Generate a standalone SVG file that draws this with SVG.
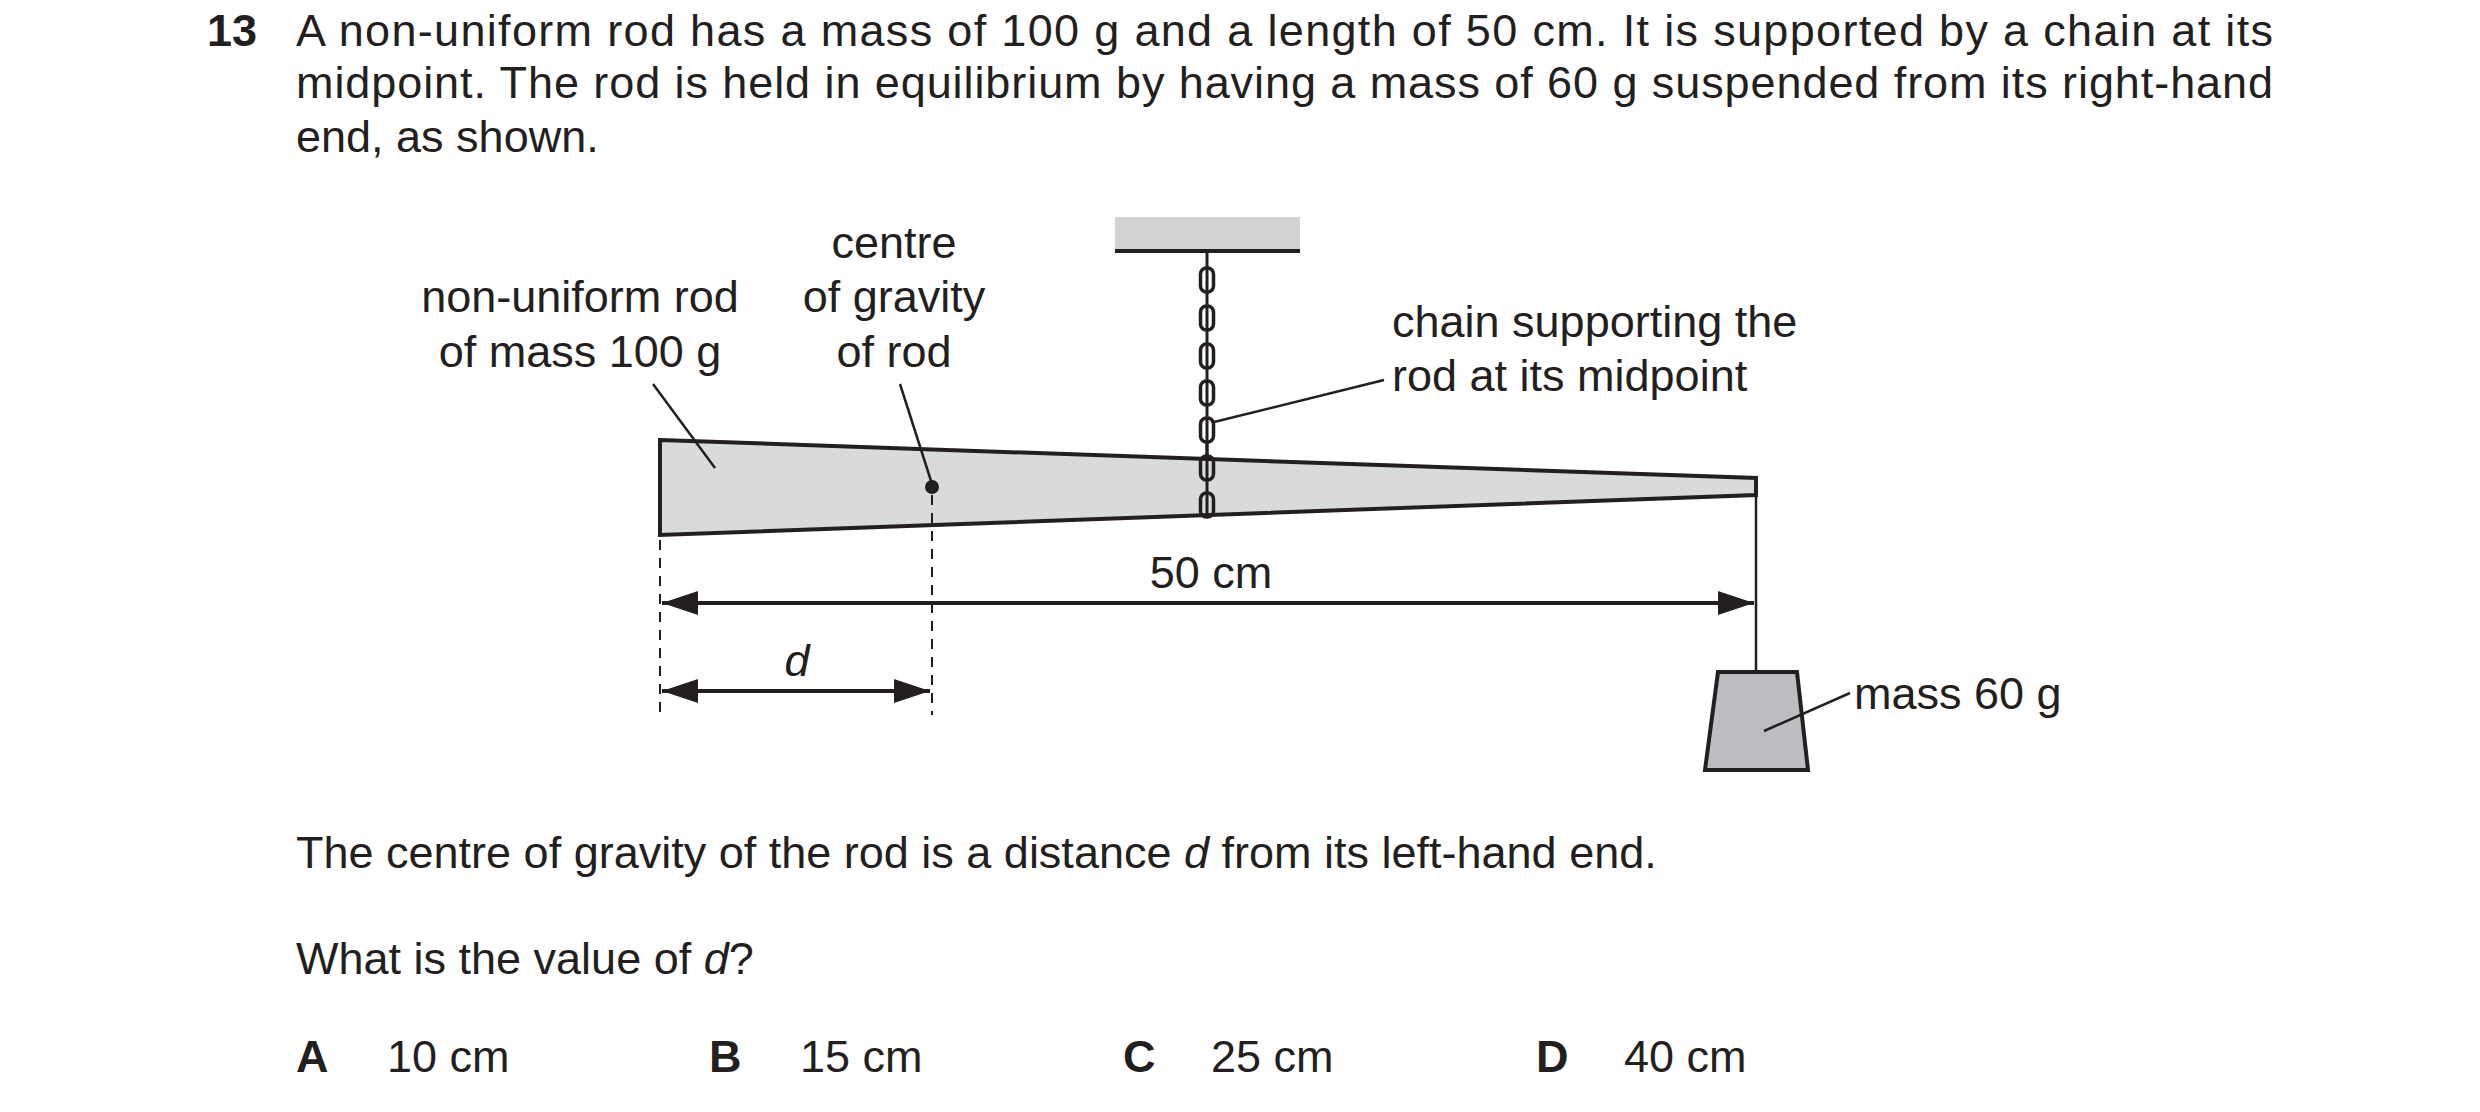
<svg xmlns="http://www.w3.org/2000/svg" width="2480" height="1112" viewBox="0 0 2480 1112">
<style>
text{font-family:"Liberation Sans",Arial,sans-serif;font-size:45px;fill:#231f20}
.b{font-weight:bold}
.ln{stroke:#231f20;stroke-width:2.5;fill:none}
.th{stroke:#231f20;stroke-width:4;fill:none}
.dash{stroke:#231f20;stroke-width:2;stroke-dasharray:10 8;fill:none}
.link{fill:none;stroke:#231f20;stroke-width:3.5}
</style>
<defs>
<marker id="ah2" viewBox="0 0 36 24" refX="36" refY="12" markerWidth="36" markerHeight="24" markerUnits="userSpaceOnUse" orient="auto-start-reverse"><path d="M0,0 L36,12 L0,24 z" fill="#231f20"/></marker>
</defs>
<rect width="2480" height="1112" fill="#fff"/>
<g id="question">
<text class="b" x="207" y="46">13</text>
<text x="296" y="46" textLength="1977" lengthAdjust="spacing">A non-uniform rod has a mass of 100 g and a length of 50 cm. It is supported by a chain at its</text>
<text x="296" y="98" textLength="1977" lengthAdjust="spacing">midpoint. The rod is held in equilibrium by having a mass of 60 g suspended from its right-hand</text>
<text x="296" y="152">end, as shown.</text>
<text x="296" y="868">The centre of gravity of the rod is a distance <tspan font-style="italic">d</tspan> from its left-hand end.</text>
<text x="296" y="974">What is the value of <tspan font-style="italic">d</tspan>?</text>
<text class="b" x="296" y="1072">A</text><text x="387" y="1072">10 cm</text>
<text class="b" x="709" y="1072">B</text><text x="800" y="1072">15 cm</text>
<text class="b" x="1123" y="1072">C</text><text x="1211" y="1072">25 cm</text>
<text class="b" x="1536" y="1072">D</text><text x="1624" y="1072">40 cm</text>
</g>
<g id="ceiling">
<rect x="1115" y="217" width="185" height="35" fill="#d1d2d4"/>
<line x1="1115" y1="251" x2="1300" y2="251" class="th"/>
</g>
<g id="chain">
<line x1="1207" y1="252" x2="1207" y2="516" stroke="#231f20" stroke-width="3"/>
<rect x="1200.5" y="268" width="13" height="24" rx="6" class="link"/>
<rect x="1200.5" y="306" width="13" height="24" rx="6" class="link"/>
<rect x="1200.5" y="344" width="13" height="24" rx="6" class="link"/>
<rect x="1200.5" y="381" width="13" height="24" rx="6" class="link"/>
<rect x="1200.5" y="418" width="13" height="24" rx="6" class="link"/>
</g>
<g id="rod">
<polygon points="660,440 1756,478 1756,495 660,535" fill="#d9dadc" stroke="#231f20" stroke-width="4"/>
<rect x="1200.5" y="456" width="13" height="24" rx="6" class="link"/>
<rect x="1200.5" y="493" width="13" height="24" rx="6" class="link"/>
<line x1="1207" y1="442" x2="1207" y2="516" stroke="#231f20" stroke-width="3"/>
<circle cx="932" cy="487" r="7" fill="#231f20"/>
</g>
<g id="mass">
<line x1="1756" y1="495" x2="1756" y2="672" class="ln"/>
<polygon points="1718,672 1797,672 1808,770 1705,770" fill="#bcbdc0" stroke="#231f20" stroke-width="4"/>
</g>
<g id="connectors">
<line x1="660" y1="540" x2="660" y2="715" class="dash"/>
<line x1="932" y1="495" x2="932" y2="715" class="dash"/>
<line x1="662" y1="603" x2="1754" y2="603" class="th" marker-start="url(#ah2)" marker-end="url(#ah2)"/>
<line x1="662" y1="691" x2="930" y2="691" class="th" marker-start="url(#ah2)" marker-end="url(#ah2)"/>
<line x1="653" y1="384" x2="715" y2="468" class="ln"/>
<line x1="900" y1="384" x2="932" y2="484" class="ln"/>
<line x1="1214" y1="422" x2="1384" y2="380" class="ln"/>
<line x1="1764" y1="731" x2="1850" y2="693" class="ln"/>
</g>
<g id="labels">
<text x="580" y="312" text-anchor="middle">non-uniform rod</text>
<text x="580" y="367" text-anchor="middle">of mass 100 g</text>
<text x="894" y="258" text-anchor="middle">centre</text>
<text x="894" y="312" text-anchor="middle">of gravity</text>
<text x="894" y="367" text-anchor="middle">of rod</text>
<text x="1392" y="337">chain supporting the</text>
<text x="1392" y="391">rod at its midpoint</text>
<text x="1211" y="588" text-anchor="middle">50 cm</text>
<text x="797" y="676" text-anchor="middle" font-style="italic">d</text>
<text x="1854" y="709">mass 60 g</text>
</g>
</svg>
